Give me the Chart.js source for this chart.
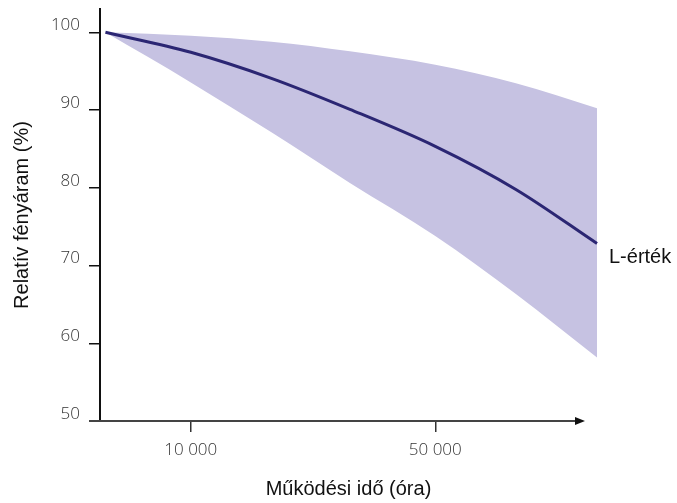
<!DOCTYPE html>
<html>
<head>
<meta charset="utf-8">
<script src="https://cdn.jsdelivr.net/npm/chart.js@4/dist/chart.umd.min.js"></script>
<style>
  body { margin: 0; background: #fff; }
  #wrap { width: 677px; height: 503px; }
</style>
</head>
<body>
<div id="wrap"><canvas id="lumenChart" width="677" height="503"></canvas></div>
<script>
// operating hours (log axis) and relative luminous flux in %
const hours = [5700, 10000, 17000, 28500, 50000, 85000, 145000];
const lValue = [100, 97.43, 94.08, 90.09, 85.33, 79.79, 72.84];
const bandUpper = [100, 99.55, 98.78, 97.55, 95.82, 93.44, 90.22];
const bandLower = [100, 93.56, 87.13, 80.63, 73.81, 66.35, 58.17];

const xTicks = [10000, 50000];
const xTickLabels = ["10 000", "50 000"];
const yTicks = [50, 60, 70, 80, 90, 100];
const seriesLabel = "L-érték";

const pts = ys => hours.map((h, i) => ({ x: h, y: ys[i] }));

// x axis with arrow + end label of the curve
const extras = {
  id: "extras",
  afterDraw(chart) {
    const { ctx, chartArea } = chart;
    const y = chartArea.bottom;
    const x0 = chartArea.left - 11;
    const tip = chartArea.right - 12;
    ctx.save();
    ctx.strokeStyle = "#444";
    ctx.lineWidth = 2;
    ctx.beginPath();
    ctx.moveTo(x0, y);
    ctx.lineTo(tip - 8, y);
    ctx.stroke();
    ctx.fillStyle = "#111";
    ctx.beginPath();
    ctx.moveTo(tip, y);
    ctx.lineTo(tip - 10, y - 4);
    ctx.lineTo(tip - 10, y + 4);
    ctx.closePath();
    ctx.fill();

    const meta = chart.getDatasetMeta(2);
    const last = meta.data[meta.data.length - 1];
    ctx.fillStyle = "#111";
    ctx.font = "20px 'Liberation Sans', Arial, sans-serif";
    ctx.textBaseline = "middle";
    ctx.textAlign = "left";
    ctx.fillText(seriesLabel, chartArea.right + 12, last.y + 14);
    ctx.restore();
  }
};

new Chart(document.getElementById("lumenChart"), {
  type: "line",
  data: {
    datasets: [
      {
        data: pts(bandUpper),
        fill: "+1",
        backgroundColor: "#c6c2e2",
        borderWidth: 0,
        pointRadius: 0
      },
      {
        data: pts(bandLower),
        fill: false,
        borderWidth: 0,
        pointRadius: 0
      },
      {
        label: seriesLabel,
        data: pts(lValue),
        fill: false,
        borderColor: "#2b2673",
        borderWidth: 3,
        pointRadius: 0,
        clip: false
      }
    ]
  },
  options: {
    responsive: false,
    animation: false,
    devicePixelRatio: 1,
    layout: { padding: { left: 0, right: 80, top: 9, bottom: 0 } },
    elements: { line: { cubicInterpolationMode: "monotone" } },
    plugins: {
      legend: { display: false },
      tooltip: { enabled: false },
      filler: { drawTime: "beforeDatasetsDraw" }
    },
    scales: {
      x: {
        type: "logarithmic",
        min: 5500,
        max: 145000,
        afterBuildTicks: s => { s.ticks = xTicks.map(v => ({ value: v })); },
        afterFit: s => { s.height = 82; s.paddingLeft = 0; s.paddingRight = 0; },
        border: { display: false },
        grid: { drawOnChartArea: false, tickLength: 11, color: "#333", lineWidth: 1.5 },
        ticks: {
          padding: 8,
          color: "#333",
          font: { family: "'Open Sans', sans-serif", size: 17, weight: "300" },
          callback: v => xTickLabels[xTicks.indexOf(v)]
        },
        title: {
          display: true,
          text: "Működési idő (óra)",
          color: "#111",
          font: { family: "'Liberation Sans', Arial, sans-serif", size: 20 },
          padding: { top: 0, bottom: 2 }
        }
      },
      y: {
        min: 50,
        max: 103,
        afterBuildTicks: s => { s.ticks = yTicks.map(v => ({ value: v })); },
        afterFit: s => { s.width = 100; s.paddingTop = 0; s.paddingBottom = 0; },
        border: { display: true, color: "#111", width: 2 },
        grid: { drawOnChartArea: false, tickLength: 11, color: "#111", lineWidth: 1.5 },
        ticks: {
          padding: 9,
          labelOffset: -7,
          color: "#333",
          font: { family: "'Open Sans', sans-serif", size: 17, weight: "300" }
        },
        title: {
          display: true,
          text: "Relatív fényáram (%)",
          color: "#111",
          font: { family: "'Liberation Sans', Arial, sans-serif", size: 20 },
          padding: { top: 10, bottom: 0 }
        }
      }
    }
  },
  plugins: [extras]
});
</script>
</body>
</html>
